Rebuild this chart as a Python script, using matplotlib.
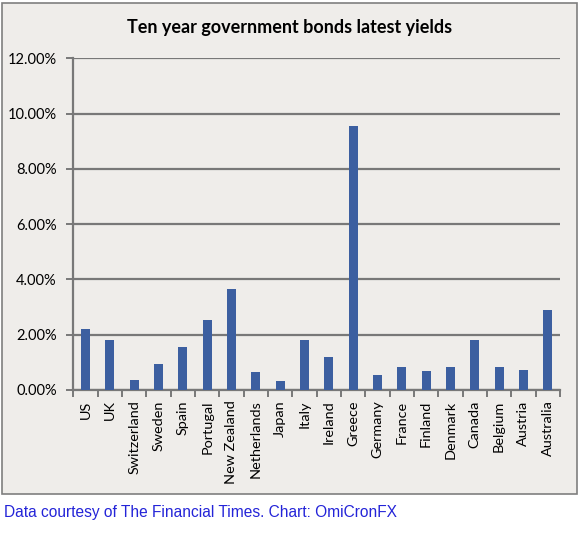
import matplotlib
matplotlib.use("Agg")
import matplotlib.pyplot as plt
from matplotlib.patches import Rectangle
from matplotlib.ticker import FuncFormatter, FixedLocator

# Ten year government bond yields (%)
countries = ["US", "UK", "Switzerland", "Sweden", "Spain", "Portugal", "New Zealand",
             "Netherlands", "Japan", "Italy", "Ireland", "Greece", "Germany", "France",
             "Finland", "Denmark", "Canada", "Belgium", "Austria", "Australia"]
yields = [2.20, 1.82, 0.36, 0.93, 1.54, 2.54, 3.66, 0.66, 0.33, 1.81, 1.20, 9.56,
          0.54, 0.84, 0.67, 0.84, 1.81, 0.84, 0.72, 2.90]
y_ticks = [0, 2, 4, 6, 8, 10, 12]

title = "Ten year government bonds latest yields"
credit = "Data courtesy of The Financial Times. Chart: OmiCronFX"

plt.rcParams["font.family"] = ["Lato", "DejaVu Sans"]

fig = plt.figure(figsize=(5.8, 5.33), dpi=100)
fig.patch.set_facecolor("white")

# chart area frame (Excel style), kept behind the axes
frame = Rectangle((2 / 580, 1 - 494 / 533), 575 / 580, 491 / 533,
                  transform=fig.transFigure, facecolor="#efedea",
                  edgecolor="#7f7f7f", linewidth=1.2, zorder=-5)
fig.patches.append(frame)

ax = fig.add_axes([0.1264, 0.2683, 0.839, 0.6223])
ax.set_facecolor("none")

x = list(range(len(countries)))
ax.bar(x, yields, width=0.37, color="#3c5fa0", zorder=3)

ax.set_xlim(-0.5, len(countries) - 0.5)
ax.set_ylim(0, 12)
ax.set_yticks(y_ticks)
ax.yaxis.set_major_formatter(FuncFormatter(lambda v, p: f"{v:.2f}%"))
ax.grid(axis="y", color="#787878", linewidth=1.6, zorder=1)

ax.set_xticks(x)
ax.set_xticklabels(countries, rotation=90, fontsize=10.4, color="black")
ax.xaxis.set_minor_locator(FixedLocator([i - 0.5 for i in range(len(countries) + 1)]))
ax.tick_params(axis="x", which="major", length=0, pad=7.5)
ax.tick_params(axis="x", which="minor", length=5, width=1.4, color="#787878")
ax.tick_params(axis="y", length=5, width=1.4, color="#787878", labelsize=10.5, pad=7)

for s in ["top", "right"]:
    ax.spines[s].set_visible(False)
for s in ["left", "bottom"]:
    ax.spines[s].set_color("#787878")
    ax.spines[s].set_linewidth(1.6)

fig.text(0.5, 1 - 27.5 / 533, title, ha="center", va="center",
         fontsize=13, fontweight="bold", color="black")
fig.text(4 / 580, 1 - 513 / 533, credit, ha="left", va="center",
         fontsize=11.2, color="#2424d8", family=["Liberation Sans", "DejaVu Sans"])

fig.savefig("out.png", dpi=100, facecolor=fig.get_facecolor())
